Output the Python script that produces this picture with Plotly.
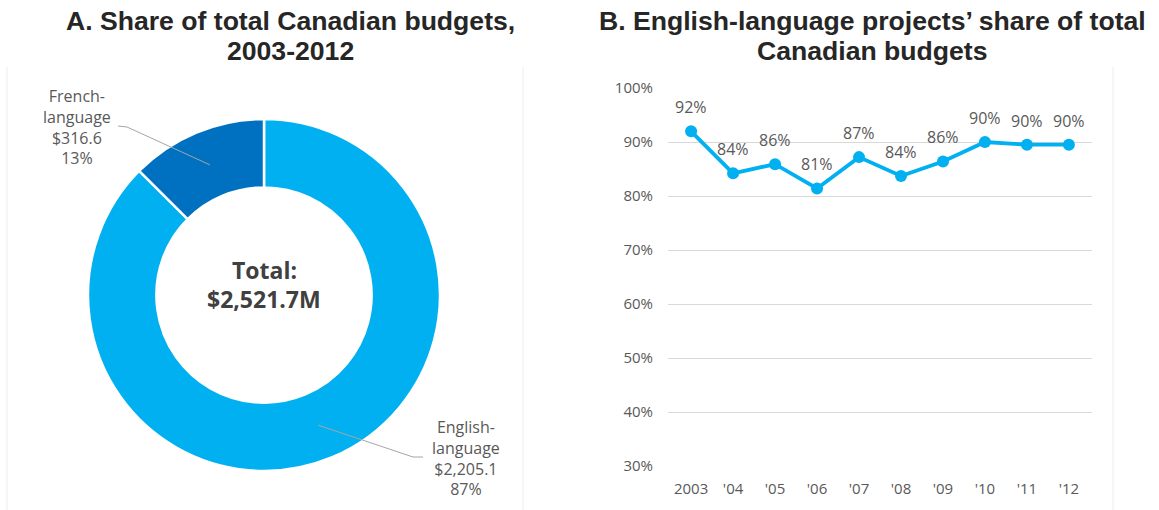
import math
import plotly.graph_objects as go

# ---- data ----
languages = ["French-language", "English-language"]
budgets = [316.6, 2205.1]          # $M, 2003-2012
slice_colors = ["#0070C0", "#00B0F0"]

years = ["2003", "'04", "'05", "'06", "'07", "'08", "'09", "'10", "'11", "'12"]
english_share = [91.98, 84.2, 85.9, 81.4, 87.2, 83.7, 86.4, 90.0, 89.5, 89.5]
y_ticks = [30, 40, 50, 60, 70, 80, 90, 100]

W, H = 1159, 510


def px(x):
    return x / W


def py(y):
    return 1 - y / H


GREY_TXT = "#595959"
TITLE_CLR = "#262626"
LABEL_FONT = "Open Sans"

fig = go.Figure()

# ---- panel A: donut ----
cx, cy, r_out, r_in = 264, 295, 175, 107
r_box = r_out + 1
fig.add_trace(go.Pie(
    labels=languages[::-1],
    values=budgets[::-1],
    hole=r_in / r_out,
    sort=False,
    direction="clockwise",
    rotation=0,
    textinfo="none",
    hoverinfo="label+value+percent",
    marker=dict(colors=slice_colors[::-1], line=dict(color="white", width=2.5)),
    domain=dict(x=[px(cx - r_box), px(cx + r_box)], y=[py(cy + r_box), py(cy - r_box)]),
    showlegend=False,
))

total = sum(budgets)
annotations = []
shapes = []


def note(x, y, text, size, color, family=LABEL_FONT, **kw):
    annotations.append(dict(x=px(x), y=py(y), xref="paper", yref="paper",
                            xanchor="center", yanchor="middle", text=text,
                            showarrow=False, align="center",
                            font=dict(family=family, size=size, color=color), **kw))


# slice labels with leader lines from mid-ring of each slice
label_pos = [(77, 127), (466, 458)]
line_ends = [[(118, 126), (127, 127)], [(423, 457), (413, 457)]]
cum = 0.0
r_mid = (r_in + r_out) / 2
for name, val, (lx, ly), ends in zip(languages, budgets, label_pos, line_ends):
    mid = (cum + val / 2) / total * 2 * math.pi
    cum += val
    ax_ = cx - r_mid * math.sin(mid)
    ay_ = cy - r_mid * math.cos(mid)
    pts = ends + [(ax_, ay_)]
    path = "M " + " L ".join(f"{px(x)},{py(y)}" for x, y in pts)
    shapes.append(dict(type="path", path=path, xref="paper", yref="paper",
                       line=dict(color="#A6A6A6", width=1)))
    head, tail = name.split("-")
    txt = f"{head}-<br>{tail}<br>${val:,.1f}<br>{val / total * 100:.0f}%"
    note(lx, ly, txt, 16, GREY_TXT)

note(cx, 270, "<b>Total:</b>", 23, "#404040")
note(cx, 299, f"<b>${total:,.1f}M</b>", 23, "#404040")

# ---- panel B: line ----
fig.add_trace(go.Scatter(
    x=list(range(len(years))), y=english_share,
    mode="lines+markers",
    line=dict(color="#00B0F0", width=3.8),
    marker=dict(color="#00B0F0", size=12),
    showlegend=False,
    hovertemplate="%{y:.0f}%<extra></extra>",
))
for i, v in enumerate(english_share):
    annotations.append(dict(x=i, y=v, xref="x", yref="y", yshift=24,
                            xanchor="center", yanchor="middle",
                            text=f"{v:.0f}%", showarrow=False,
                            font=dict(family=LABEL_FONT, size=16, color=GREY_TXT)))

# ---- titles (one annotation per line for tight leading) ----
for (tx, lines) in [(290, ["A. Share of total Canadian budgets,", "2003-2012"]),
                    (872, ["B. English-language projects’ share of total", "Canadian budgets"])]:
    for k, line in enumerate(lines):
        note(tx, 21 + 30 * k, f"<b>{line}</b>", 26.6, TITLE_CLR, family="Liberation Sans")

# faint panel frames
for xline in (7, 523, 1113):
    shapes.append(dict(type="line", xref="paper", yref="paper",
                       x0=px(xline), x1=px(xline), y0=py(67), y1=0,
                       line=dict(color="#EDEDED", width=1)))

fig.update_layout(
    width=W, height=H,
    margin=dict(l=0, r=0, t=0, b=0, autoexpand=False),
    paper_bgcolor="white", plot_bgcolor="white",
    annotations=annotations,
    shapes=shapes,
    xaxis=dict(domain=[px(668), px(1092)], range=[-0.55, 9.55], automargin=False,
               tickvals=list(range(len(years))), ticktext=years,
               showgrid=False, zeroline=False, showline=False, ticks="",
               tickfont=dict(family=LABEL_FONT, size=15, color=GREY_TXT),
               ticklabelstandoff=12),
    yaxis=dict(domain=[py(466), py(88)], range=[30, 100], automargin=False,
               tickvals=y_ticks, ticktext=[f"{t}%" for t in y_ticks],
               showgrid=True, gridcolor="#D9D9D9", gridwidth=1,
               zeroline=False, showline=False, ticks="",
               tickfont=dict(family=LABEL_FONT, size=15, color=GREY_TXT),
               ticklabelstandoff=14),
)

fig.write_html("out.html")
